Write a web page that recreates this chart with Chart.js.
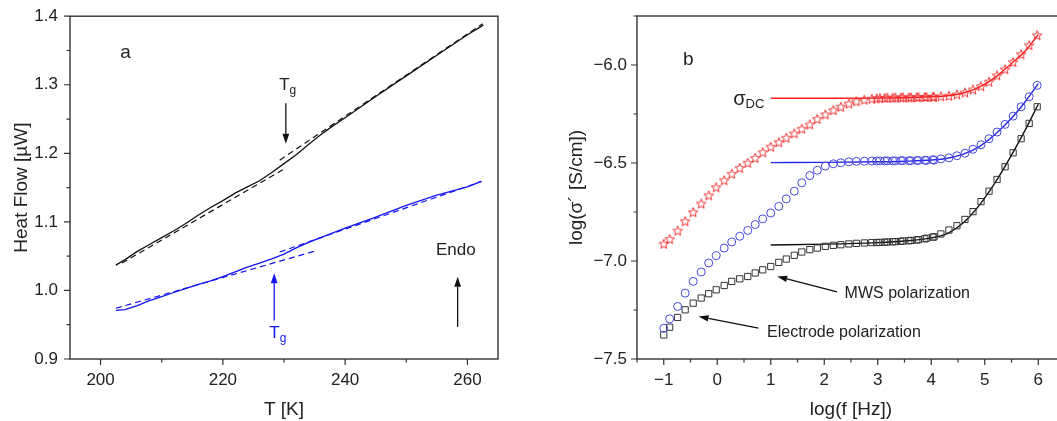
<!DOCTYPE html>
<html>
<head>
<meta charset="utf-8">
<script src="https://cdn.jsdelivr.net/npm/chart.js@4.4.1/dist/chart.umd.min.js"></script>
<style>
  html, body { margin: 0; padding: 0; background: #fff; overflow: hidden; width: 1057px; height: 421px; }
  #wrapA { position: absolute; left: 0; top: 0; }
  #wrapB { position: absolute; left: 527px; top: 0; }
</style>
</head>
<body>
<div id="wrapA"><canvas id="chartA" width="520" height="421"></canvas></div>
<div id="wrapB"><canvas id="chartB" width="600" height="421"></canvas></div>
<script>
// ---------- panel a : heat flow vs temperature ----------
const tempBlack = [202.5, 204, 206, 208, 210, 212, 214, 216, 218, 220, 222, 224, 226, 228, 230, 232, 234, 236, 238, 240, 245, 250, 255, 260, 262.6];
const heatBlack = [1.037, 1.045, 1.057, 1.067, 1.077, 1.087, 1.098, 1.110, 1.121, 1.131, 1.142, 1.151, 1.160, 1.172, 1.185, 1.198, 1.213, 1.227, 1.240, 1.252, 1.283, 1.313, 1.343, 1.373, 1.387];
const tempBlue = [202.5, 204, 206, 208, 210, 212, 214, 216, 218, 220, 222, 224, 226, 228, 230, 232, 234, 236, 238, 240, 245, 250, 255, 260, 262.3];
const heatBlue = [0.971, 0.972, 0.978, 0.985, 0.991, 0.997, 1.003, 1.009, 1.014, 1.020, 1.027, 1.034, 1.040, 1.046, 1.053, 1.062, 1.070, 1.077, 1.084, 1.091, 1.107, 1.124, 1.139, 1.151, 1.159];

// tangent (dashed) lines, two points each
const tanBlackLowT = [203.5, 230.4];
const tanBlackLowH = [1.040, 1.179];
const tanBlackHighT = [229.3, 262.5];
const tanBlackHighH = [1.190, 1.389];
const tanBlueLowT = [202.5, 235.3];
const tanBlueLowH = [0.974, 1.058];
const tanBlueHighT = [229.3, 262.3];
const tanBlueHighH = [1.056, 1.159];

// ---------- panel b : conductivity vs frequency ----------
const freqLow = [-1.00, -0.89, -0.74, -0.60, -0.45, -0.30, -0.16, -0.02, 0.13, 0.27, 0.42, 0.57, 0.71, 0.85, 1.00, 1.15, 1.29, 1.44, 1.58, 1.73,
                 1.87, 2.02, 2.17, 2.31, 2.46, 2.60, 2.75, 2.89, 3.04, 3.18, 3.33, 3.47, 3.62, 3.76, 3.91, 4.05];
const sigRedLow = [-6.912, -6.888, -6.845, -6.797, -6.751, -6.707, -6.665, -6.624, -6.588, -6.555, -6.525, -6.499, -6.474, -6.445, -6.417, -6.394, -6.371, -6.349, -6.325, -6.303,
                   -6.275, -6.252, -6.230, -6.213, -6.197, -6.185, -6.177, -6.172, -6.169, -6.167, -6.166, -6.165, -6.165, -6.164, -6.163, -6.162];
const sigBlueLow = [-7.343, -7.295, -7.232, -7.164, -7.104, -7.056, -7.010, -6.973, -6.934, -6.903, -6.874, -6.844, -6.814, -6.785, -6.755, -6.721, -6.683, -6.644, -6.601, -6.564,
                    -6.537, -6.516, -6.504, -6.499, -6.494, -6.492, -6.491, -6.490, -6.489, -6.489, -6.489, -6.488, -6.488, -6.487, -6.487, -6.486];
const sigBlackLow = [-7.377, -7.338, -7.288, -7.249, -7.215, -7.189, -7.167, -7.147, -7.125, -7.104, -7.091, -7.079, -7.061, -7.045, -7.028, -7.007, -6.990, -6.971, -6.954, -6.942,
                     -6.934, -6.925, -6.920, -6.917, -6.913, -6.910, -6.908, -6.906, -6.905, -6.903, -6.901, -6.898, -6.895, -6.891, -6.884, -6.877];

const freqHigh = [2.98, 3.13, 3.28, 3.43, 3.58, 3.73, 3.88, 4.03, 4.18, 4.33, 4.48, 4.63, 4.78, 4.93, 5.08, 5.23, 5.38, 5.53, 5.68, 5.83, 5.98];
const sigRedHigh = [-6.170, -6.168, -6.167, -6.166, -6.165, -6.164, -6.163, -6.162, -6.160, -6.157, -6.150, -6.140, -6.125, -6.108, -6.085, -6.053, -6.022, -5.985, -5.945, -5.899, -5.848];
const sigBlueHigh = [-6.490, -6.489, -6.489, -6.488, -6.488, -6.487, -6.486, -6.483, -6.479, -6.474, -6.463, -6.450, -6.430, -6.407, -6.376, -6.342, -6.303, -6.261, -6.213, -6.162, -6.104];
const sigBlackHigh = [-6.906, -6.904, -6.902, -6.900, -6.897, -6.893, -6.887, -6.878, -6.862, -6.842, -6.820, -6.788, -6.748, -6.697, -6.644, -6.584, -6.519, -6.448, -6.376, -6.298, -6.213];

// fitted curves
const fitFreq = [1, 2, 3, 3.5, 4, 4.3, 4.6, 4.9, 5.2, 5.5, 5.75, 6.0];
const fitRed = [-6.170, -6.170, -6.169, -6.167, -6.162, -6.157, -6.143, -6.113, -6.062, -5.992, -5.930, -5.845];
const fitBlue = [-6.498, -6.497, -6.494, -6.491, -6.485, -6.476, -6.455, -6.416, -6.352, -6.272, -6.190, -6.095];
const fitBlack = [-6.918, -6.914, -6.906, -6.898, -6.882, -6.860, -6.805, -6.715, -6.598, -6.460, -6.335, -6.200];

const FONT = '"Liberation Sans", Arial, sans-serif';
const INK = '#222';
const FRAME = '#333';

const xy = (xs, ys) => xs.map((x, i) => ({ x: x, y: ys[i] }));

// open five-point star marker
function makeStar(color) {
  const c = document.createElement('canvas');
  c.width = 12; c.height = 12;
  const g = c.getContext('2d');
  g.strokeStyle = color;
  g.lineWidth = 1;
  g.beginPath();
  for (let i = 0; i < 10; i++) {
    const r = i % 2 === 0 ? 5 : 2.2;
    const a = -Math.PI / 2 + i * Math.PI / 5;
    const px = 6 + r * Math.cos(a), py = 6.5 + r * Math.sin(a);
    if (i === 0) g.moveTo(px, py); else g.lineTo(px, py);
  }
  g.closePath();
  g.stroke();
  return c;
}

// box frame plus major/minor tick marks (drawn at the scale's own tick values)
function makeFrame(xKind, yKind) {
  return {
    id: 'frame',
    afterDraw(chart) {
      const { ctx, chartArea: a } = chart;
      const xs = chart.scales.x, ys = chart.scales.y;
      ctx.save();
      ctx.strokeStyle = FRAME;
      ctx.lineWidth = 1.4;
      ctx.strokeRect(a.left, a.top, a.right - a.left, a.bottom - a.top);
      ctx.lineWidth = 1.2;
      ctx.beginPath();
      xs.ticks.forEach(t => {
        const k = xKind(t.value);
        if (!k) return;
        const px = xs.getPixelForValue(t.value);
        ctx.moveTo(px, a.bottom);
        ctx.lineTo(px, a.bottom + (k === 'major' ? 6 : 3.5));
      });
      ys.ticks.forEach(t => {
        const k = yKind(t.value);
        if (!k) return;
        const py = ys.getPixelForValue(t.value);
        ctx.moveTo(a.left, py);
        ctx.lineTo(a.left - (k === 'major' ? 6 : 3.5), py);
      });
      ctx.stroke();
      ctx.restore();
    }
  };
}

// text labels and arrows placed in data coordinates
function makeNotes(texts, arrows) {
  return {
    id: 'notes',
    afterDraw(chart) {
      const { ctx } = chart;
      const xs = chart.scales.x, ys = chart.scales.y;
      ctx.save();
      arrows.forEach(ar => {
        const x1 = xs.getPixelForValue(ar.x1), y1 = ys.getPixelForValue(ar.y1);
        const x2 = xs.getPixelForValue(ar.x2), y2 = ys.getPixelForValue(ar.y2);
        const ang = Math.atan2(y2 - y1, x2 - x1);
        const hl = ar.head || 10, hw = ar.width || 3.4;
        const bx = x2 - hl * Math.cos(ang), by = y2 - hl * Math.sin(ang);
        ctx.strokeStyle = ar.color;
        ctx.fillStyle = ar.color;
        ctx.lineWidth = 1.3;
        ctx.beginPath();
        ctx.moveTo(x1, y1);
        ctx.lineTo(bx, by);
        ctx.stroke();
        ctx.beginPath();
        ctx.moveTo(x2, y2);
        ctx.lineTo(bx + hw * Math.sin(ang), by - hw * Math.cos(ang));
        ctx.lineTo(bx - hw * Math.sin(ang), by + hw * Math.cos(ang));
        ctx.closePath();
        ctx.fill();
      });
      texts.forEach(tx => {
        let total = 0;
        tx.parts.forEach(p => {
          ctx.font = p.size + 'px ' + FONT;
          p.w = ctx.measureText(p.t).width;
          total += p.w;
        });
        let px = xs.getPixelForValue(tx.x);
        const py = ys.getPixelForValue(tx.y);
        if (tx.align === 'center') px -= total / 2;
        else if (tx.align === 'right') px -= total;
        ctx.fillStyle = tx.color || INK;
        ctx.textBaseline = 'middle';
        ctx.textAlign = 'left';
        tx.parts.forEach(p => {
          ctx.font = p.size + 'px ' + FONT;
          ctx.fillText(p.t, px, py + (p.dy || 0));
          px += p.w;
        });
      });
      ctx.restore();
    }
  };
}

function axis(min, max, step, label, fit, pad, title, titlePad) {
  return {
    type: 'linear', min: min, max: max,
    ticks: {
      stepSize: step, includeBounds: false, autoSkip: false, maxRotation: 0,
      padding: pad, color: INK, font: { family: FONT, size: 17 },
      callback: label
    },
    grid: { drawOnChartArea: false, drawTicks: true, tickLength: 6, tickColor: 'rgba(0,0,0,0)' },
    border: { display: false },
    title: { display: true, text: title, color: INK, font: { family: FONT, size: 19 }, padding: titlePad },
    afterFit: fit
  };
}

const minus = s => s.replace('-', '\u2212');

// ---------- chart a ----------
const blackA = '#111111';
const blueA = '#1414f0';
new Chart(document.getElementById('chartA'), {
  type: 'scatter',
  data: {
    datasets: [
      { data: xy(tempBlack, heatBlack), showLine: true, borderColor: blackA, borderWidth: 1.3, pointRadius: 0 },
      { data: xy(tanBlackLowT, tanBlackLowH), showLine: true, borderColor: blackA, borderWidth: 1.2, borderDash: [6, 4], pointRadius: 0 },
      { data: xy(tanBlackHighT, tanBlackHighH), showLine: true, borderColor: blackA, borderWidth: 1.2, borderDash: [6, 4], pointRadius: 0 },
      { data: xy(tempBlue, heatBlue), showLine: true, borderColor: blueA, borderWidth: 1.3, pointRadius: 0 },
      { data: xy(tanBlueLowT, tanBlueLowH), showLine: true, borderColor: blueA, borderWidth: 1.2, borderDash: [6, 4], pointRadius: 0 },
      { data: xy(tanBlueHighT, tanBlueHighH), showLine: true, borderColor: blueA, borderWidth: 1.2, borderDash: [6, 4], pointRadius: 0 }
    ]
  },
  options: {
    responsive: false,
    animation: false,
    layout: { padding: { left: 0, top: 16, right: 22, bottom: 0 } },
    plugins: { legend: { display: false }, tooltip: { enabled: false } },
    scales: {
      x: axis(195, 265, 5, v => (Math.abs(v % 20) < 1e-6 ? String(v) : ''), s => { s.height = 62; }, 5, 'T [K]', { top: 0, bottom: 0 }),
      y: axis(0.9, 1.4, 0.05, v => (Math.round(v * 100) % 10 === 0 ? v.toFixed(1) : ''), s => { s.width = 70; }, 6, 'Heat Flow [\u00b5W]', { top: 10, bottom: 0 })
    }
  },
  plugins: [
    makeFrame(v => (Math.abs(v % 20) < 1e-6 ? 'major' : (Math.abs(v % 10) < 1e-6 ? 'minor' : null)),
              v => (Math.round(v * 100) % 10 === 0 ? 'major' : 'minor')),
    makeNotes(
      [
        { x: 203.2, y: 1.346, align: 'left', parts: [{ t: 'a', size: 19 }] },
        { x: 230.6, y: 1.299, align: 'center', parts: [{ t: 'T', size: 17 }, { t: 'g', size: 12, dy: 5 }] },
        { x: 229.0, y: 0.937, align: 'center', color: blueA, parts: [{ t: 'T', size: 17 }, { t: 'g', size: 12, dy: 5 }] },
        { x: 258.1, y: 1.058, align: 'center', parts: [{ t: 'Endo', size: 17 }] }
      ],
      [
        { x1: 230.3, y1: 1.273, x2: 230.3, y2: 1.214, color: blackA },
        { x1: 228.4, y1: 0.956, x2: 228.4, y2: 1.025, color: blueA },
        { x1: 258.4, y1: 0.947, x2: 258.4, y2: 1.020, color: blackA }
      ]
    )
  ]
});

// ---------- chart b ----------
const redB = '#ff1a1a';
const blueB = '#2525e8';
const circB = '#4848e0';
const blackB = '#333333';
const star = makeStar('#f03030');
const markers = (xs, ys, style, color, r) => ({
  data: xy(xs, ys), showLine: false, pointStyle: style, pointRadius: r,
  pointBorderColor: color, pointBackgroundColor: 'rgba(0,0,0,0)', pointBorderWidth: 1
});
const fitLine = (ys, color) => ({
  data: xy(fitFreq, ys), showLine: true, borderColor: color, borderWidth: 1.4,
  pointRadius: 0, cubicInterpolationMode: 'monotone'
});

new Chart(document.getElementById('chartB'), {
  type: 'scatter',
  data: {
    datasets: [
      markers(freqLow, sigRedLow, star, '#f03030', 5),
      markers(freqHigh, sigRedHigh, star, '#f03030', 5),
      markers(freqLow, sigBlueLow, 'circle', circB, 4),
      markers(freqHigh, sigBlueHigh, 'circle', circB, 4),
      markers(freqLow, sigBlackLow, 'rect', blackB, 4.4),
      markers(freqHigh, sigBlackHigh, 'rect', blackB, 4.4),
      fitLine(fitRed, redB),
      fitLine(fitBlue, blueB),
      fitLine(fitBlack, '#111111')
    ]
  },
  options: {
    responsive: false,
    animation: false,
    layout: { padding: { left: 0, top: 16, right: 62, bottom: 0 } },
    plugins: { legend: { display: false }, tooltip: { enabled: false } },
    scales: {
      x: axis(-1.5, 6.5, 0.5, v => (Math.abs(v - Math.round(v)) < 1e-6 ? minus(String(Math.round(v))) : ''), s => { s.height = 62; }, 5, 'log(f [Hz])', { top: 0, bottom: 0 }),
      y: axis(-7.5, -5.75, 0.25, v => (Math.round(v * 100) % 50 === 0 ? minus(v.toFixed(1)) : ''), s => { s.width = 110; }, 4, 'log(\u03c3\u00b4 [S/cm])', { top: 38, bottom: 0 })
    }
  },
  plugins: [
    makeFrame(v => (Math.abs(v - Math.round(v)) < 1e-6 ? 'major' : 'minor'),
              v => (Math.round(v * 100) % 50 === 0 ? 'major' : 'minor')),
    makeNotes(
      [
        { x: -0.64, y: -5.975, align: 'left', parts: [{ t: 'b', size: 19 }] },
        { x: 0.88, y: -6.175, align: 'right', parts: [{ t: '\u03c3', size: 20 }, { t: 'DC', size: 13, dy: 5 }] },
        { x: 2.38, y: -7.164, align: 'left', parts: [{ t: 'MWS polarization', size: 16 }] },
        { x: 0.93, y: -7.363, align: 'left', parts: [{ t: 'Electrode polarization', size: 16 }] }
      ],
      [
        { x1: 2.24, y1: -7.157, x2: 1.12, y2: -7.079, color: '#111111', width: 3.2 },
        { x1: 0.77, y1: -7.342, x2: -0.35, y2: -7.283, color: '#111111', width: 3.2 }
      ]
    )
  ]
});
</script>
</body>
</html>
